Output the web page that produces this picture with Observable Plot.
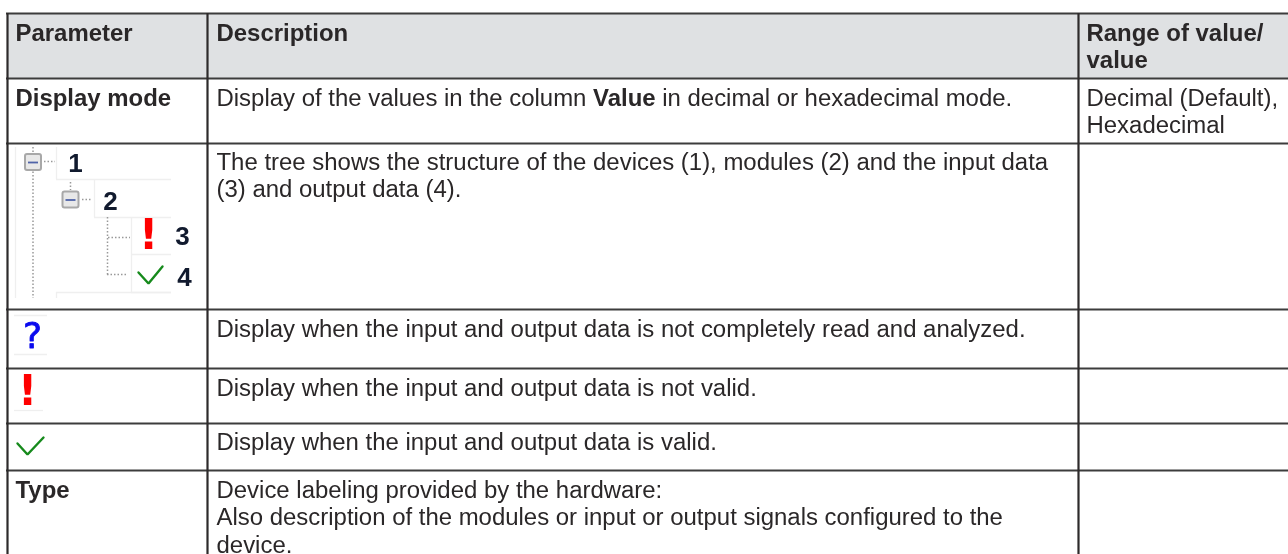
<!DOCTYPE html>
<html>
<head>
<meta charset="utf-8">
<script src="https://cdn.jsdelivr.net/npm/d3@7"></script>
<script src="https://cdn.jsdelivr.net/npm/@observablehq/plot@0.6"></script>
<style>
html,body{margin:0;padding:0;background:#fff;overflow:hidden}
svg{display:block;filter:blur(0.35px)}
</style>
</head>
<body>
<div id="chart"></div>
<script>
// ---- table content ----
const headers = ["Parameter", "Description", "Range of value/\nvalue"];
const parameters = ["Display mode", "Type"];
const descriptions = [
  "The tree shows the structure of the devices (1), modules (2) and the input data\n(3) and output data (4).",
  "Display when the input and output data is not completely read and analyzed.",
  "Display when the input and output data is not valid.",
  "Display when the input and output data is valid.",
  "Device labeling provided by the hardware:\nAlso description of the modules or input or output signals configured to the\ndevice."
];
const displayModeRuns = ["Display of the values in the column ", "Value", " in decimal or hexadecimal mode."];
const rangeValues = ["Decimal (Default),\nHexadecimal"];
const treeNumbers = ["1", "2", "3", "4"];

// ---- layout of the table (in page units, mapped by the x and y scales) ----
const colEdges = [7, 207, 1078];
const rowEdges = [13, 78, 143, 309, 368, 423, 470];
const rightEdge = 1288, bottomEdge = 554;
const textX = [15, 216, 1086];
const baselines = {header: 40, mode: 105, tree: 169, q: 336, bang: 395, check: 449, type: 497};

const ink = "#2a2728", FONT = "Liberation Sans, Arial, sans-serif", SIZE = 23.95, LH = 1.165;
const ctx = document.createElement("canvas").getContext("2d");
const w = (s, bold) => { ctx.font = `${bold ? "bold " : ""}${SIZE}px ${FONT}`; return ctx.measureText(s).width; };

// Plot places the first baseline 0.71 line-heights below a "top" anchor.
const lineTop = b => b - 0.71 * LH * SIZE;
const textLayer = (data, opts) => Plot.text(data, {
  text: d => d.t, x: d => d.x, y: d => lineTop(d.y), textAnchor: "start", lineAnchor: "top",
  fill: ink, fontSize: SIZE, lineHeight: LH, fontFamily: FONT, ...opts
});

const headerCells = headers.map((t, i) => ({t, x: textX[i], y: baselines.header}));
const boldCells = [
  {t: parameters[0], x: textX[0], y: baselines.mode},
  {t: parameters[1], x: textX[0], y: baselines.type}
];
const normalCells = [
  {t: descriptions[0], x: textX[1], y: baselines.tree},
  {t: descriptions[1], x: textX[1], y: baselines.q},
  {t: descriptions[2], x: textX[1], y: baselines.bang},
  {t: descriptions[3], x: textX[1], y: baselines.check},
  {t: descriptions[4], x: textX[1], y: baselines.type},
  {t: rangeValues[0], x: textX[2], y: baselines.mode}
];
const x1 = textX[1] + w(displayModeRuns[0], false);
const x2 = x1 + w(displayModeRuns[1], true);
const runs = [
  {t: displayModeRuns[0].trimEnd(), x: textX[1], y: baselines.mode},
  {t: displayModeRuns[2].trimStart(), x: x2 + w(" ", false), y: baselines.mode}
];
const boldRun = [{t: displayModeRuns[1], x: x1, y: baselines.mode}];

// ---- icon geometry ----
const paleH = [[179,56,171],[217,94,171],[254,131,171],[292,131,171],[292,56,171],[315,14,47],[354,14,47],[410,14,43]];
const paleV = [[15,147,298],[56,147,179],[94,179,217],[131,217,292],[56,292,298]];
const dotH = [[161,44,55],[199,82,91],[237,108,130],[274,107,128]];
const dotV = [[32.5,147,298],[70,182,190],[107,217,275]];
const boxes = [{x: 33, y: 162}, {x: 70.5, y: 199.5}];
const checks = [
  [{x:138,y:272,k:"a"},{x:148,y:283,k:"a"},{x:162,y:266,k:"a"}],
  [{x:17,y:443,k:"b"},{x:27,y:454,k:"b"},{x:43,y:437,k:"b"}]
].flat();
const numberPos = [[75,163],[110,201],[182,236],[184,277]];
const bangs = [{x: 148, y: 235.5}, {x: 27, y: 391}];

const chart = Plot.plot({
  width: 1288, height: 554,
  margin: 0,
  x: {type: "linear", domain: [0, 1288], range: [0, 1288], axis: null},
  y: {type: "linear", domain: [0, 554], range: [0, 554], axis: null},
  style: {background: "#fff"},
  marks: [
    Plot.rect([{}], {x1: colEdges[0], x2: rightEdge, y1: rowEdges[0], y2: rowEdges[1], fill: "#dfe1e3"}),
    Plot.ruleY(paleH, {y: d => d[0], x1: d => d[1], x2: d => d[2], stroke: "#efefef", strokeWidth: 1.3}),
    Plot.ruleX(paleV, {x: d => d[0], y1: d => d[1], y2: d => d[2], stroke: "#efefef", strokeWidth: 1.3}),
    Plot.ruleY(dotH, {y: d => d[0], x1: d => d[1], x2: d => d[2], stroke: "#999", strokeWidth: 1.5, strokeDasharray: "1.5 2"}),
    Plot.ruleX(dotV, {x: d => d[0], y1: d => d[1], y2: d => d[2], stroke: "#999", strokeWidth: 1.5, strokeDasharray: "1.5 2"}),
    Plot.rect(boxes, {x1: d => d.x - 8, x2: d => d.x + 8, y1: d => d.y - 8, y2: d => d.y + 8, fill: "#e8e8e8", stroke: "#a8a8a8", strokeWidth: 2, rx: 2}),
    Plot.ruleY(boxes, {y: d => d.y, x1: d => d.x - 5, x2: d => d.x + 5, stroke: "#4f63a8", strokeWidth: 1.8}),
    Plot.ruleY(rowEdges, {x1: colEdges[0] - 1, x2: rightEdge, stroke: "#3c3c3c", strokeWidth: 2.2}),
    Plot.ruleX(colEdges, {y1: rowEdges[0], y2: bottomEdge, stroke: "#2d2a2b", strokeWidth: 2.2}),
    Plot.line(checks, {x: "x", y: "y", z: "k", stroke: "#168a1c", strokeWidth: 2.4, strokeLinejoin: "miter"}),
    Plot.text(bangs, {x: "x", y: "y", text: () => "!", fill: "#ff0000", fontSize: 42, fontWeight: "bold", fontFamily: "DejaVu Sans"}),
    Plot.text([{}], {x: 32, y: 336, text: () => "?", fill: "#0a0aee", stroke: "#0a0aee", strokeWidth: 0.8, fontSize: 36, fontFamily: "DejaVu Sans"}),
    Plot.text(treeNumbers, {x: (d, i) => numberPos[i][0], y: (d, i) => numberPos[i][1], text: d => d, fill: "#111a2e", fontSize: 26, fontWeight: "bold", fontFamily: FONT}),
    textLayer(headerCells, {fontWeight: "bold"}),
    textLayer(boldCells, {fontWeight: "bold"}),
    textLayer(normalCells, {}),
    textLayer(runs, {}),
    textLayer(boldRun, {fontWeight: "bold"})
  ]
});
document.getElementById("chart").append(chart);
</script>
</body>
</html>
